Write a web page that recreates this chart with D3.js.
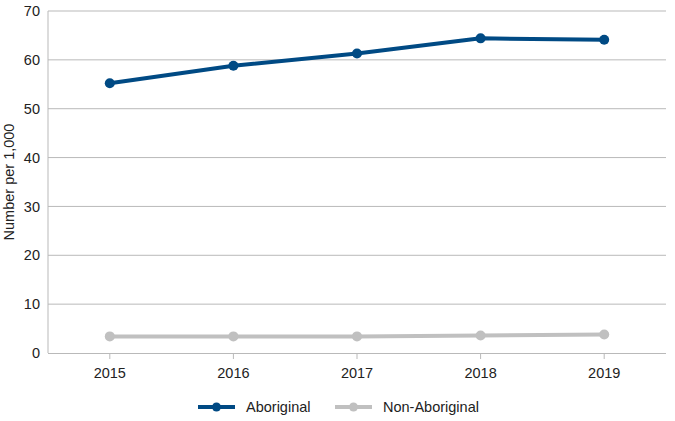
<!DOCTYPE html>
<html>
<head>
<meta charset="utf-8">
<script src="https://cdn.jsdelivr.net/npm/d3@7"></script>
<style>
  body { margin: 0; background: #fff; }
  text { font-family: "Liberation Sans", Arial, sans-serif; fill: #222; }
</style>
</head>
<body>
<svg id="chart" width="675" height="421"></svg>
<script>
// chart data
const years = ['2015', '2016', '2017', '2018', '2019'];
const aboriginal = [55.2, 58.8, 61.3, 64.4, 64.1];
const nonAboriginal = [3.4, 3.4, 3.4, 3.6, 3.8];
const yTicks = [0, 10, 20, 30, 40, 50, 60, 70];
const seriesNames = ['Aboriginal', 'Non-Aboriginal'];
const seriesColours = ['#004a84', '#c0c0c0'];

function render() {
  const svg = d3.select('#chart');
  const margin = { top: 11, right: 9, bottom: 68, left: 48 };
  const width = +svg.attr('width');
  const height = +svg.attr('height');
  const innerWidth = width - margin.left - margin.right;
  const innerHeight = height - margin.top - margin.bottom;

  const x = d3.scaleBand().domain(years).range([0, innerWidth]);
  const y = d3.scaleLinear().domain([0, 70]).range([innerHeight, 0]);

  const chart = svg.append('g')
    .attr('transform', `translate(${margin.left}, ${margin.top})`);

  // gridlines
  chart.append('g')
    .selectAll('line')
    .data(yTicks.filter(d => d > 0))
    .enter().append('line')
    .attr('x1', 0).attr('x2', innerWidth)
    .attr('y1', d => y(d)).attr('y2', d => y(d))
    .attr('stroke', '#b9b9b9').attr('stroke-width', 1);

  // left border
  chart.append('line')
    .attr('x1', 0).attr('x2', 0)
    .attr('y1', 0).attr('y2', innerHeight)
    .attr('stroke', '#b9b9b9');

  // y axis
  const yAxis = d3.axisLeft(y).tickValues(yTicks).tickSize(0).tickPadding(8);
  const yg = chart.append('g').call(yAxis);
  yg.select('.domain').remove();
  yg.selectAll('.tick text').style('font-size', '14.5px').attr('fill', '#222');

  // x axis
  const xAxis = d3.axisBottom(x).tickSize(6).tickPadding(9);
  const xg = chart.append('g')
    .attr('transform', `translate(0, ${innerHeight})`)
    .call(xAxis);
  xg.select('.domain').attr('stroke', '#b9b9b9').attr('d', `M0,0.5H${innerWidth}`);
  xg.selectAll('.tick line').attr('stroke', '#b9b9b9');
  xg.selectAll('.tick text').style('font-size', '14.5px').attr('fill', '#222');

  // y axis title
  svg.append('text')
    .attr('transform', `translate(14, ${margin.top + innerHeight / 2}) rotate(-90)`)
    .attr('text-anchor', 'middle')
    .style('font-size', '14.5px')
    .text('Number per 1,000');

  const line = d3.line()
    .x((d, i) => x(years[i]) + x.bandwidth() / 2)
    .y(d => y(d));

  [nonAboriginal, aboriginal].forEach(function(values, k) {
    const colour = k === 0 ? seriesColours[1] : seriesColours[0];
    const g = chart.append('g');
    g.append('path')
      .datum(values)
      .attr('d', line)
      .attr('fill', 'none')
      .attr('stroke', colour)
      .attr('stroke-width', 4)
      .attr('stroke-linejoin', 'round');
    g.selectAll('circle')
      .data(values)
      .enter().append('circle')
      .attr('cx', (d, i) => x(years[i]) + x.bandwidth() / 2)
      .attr('cy', d => y(d))
      .attr('r', 5)
      .attr('fill', colour);
  });

  // legend
  const legendX = [198, 335];
  const legend = svg.append('g').attr('transform', 'translate(0, 407)');
  seriesNames.forEach(function(name, i) {
    const lg = legend.append('g').attr('transform', `translate(${legendX[i]}, 0)`);
    lg.append('line')
      .attr('x1', 0).attr('x2', 37)
      .attr('y1', 0).attr('y2', 0)
      .attr('stroke', seriesColours[i]).attr('stroke-width', 4);
    lg.append('circle')
      .attr('cx', 18.5).attr('cy', 0).attr('r', 4.5)
      .attr('fill', seriesColours[i]);
    lg.append('text')
      .attr('x', 48).attr('y', 5)
      .style('font-size', '14.5px')
      .text(name);
  });
}

render();
</script>
</body>
</html>
